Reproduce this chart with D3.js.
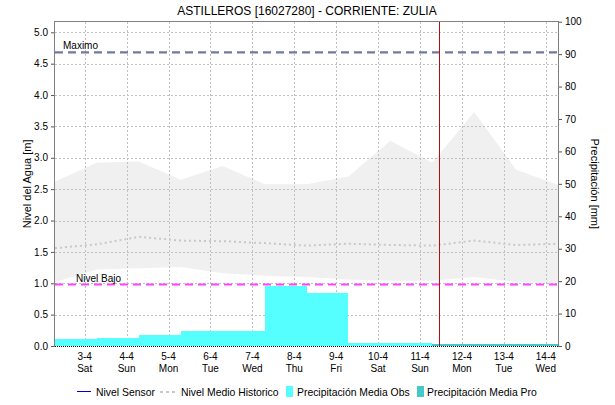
<!DOCTYPE html>
<html>
<head>
<meta charset="utf-8">
<script src="https://cdn.jsdelivr.net/npm/d3@7"></script>
<style>
  html, body { margin: 0; padding: 0; background: #ffffff; }
  svg { display: block; font-family: "Liberation Sans", Arial, sans-serif; }
</style>
</head>
<body>
<svg id="chart" width="615" height="405"></svg>
<script>
// Station: ASTILLEROS [16027280] - Corriente: Zulia

// Daily reference instants (07:00 each day), 2-4 .. 14-4
const dayStarts = ["2021-04-02", "2021-04-03", "2021-04-04", "2021-04-05", "2021-04-06",
  "2021-04-07", "2021-04-08", "2021-04-09", "2021-04-10", "2021-04-11",
  "2021-04-12", "2021-04-13", "2021-04-14"];

// Historic water level envelope [m]
const historicMax = [2.62, 2.92, 2.94, 2.65, 2.87, 2.58, 2.58, 2.70, 3.27, 2.92, 3.73, 2.81, 2.57];
const historicMin = [1.02, 1.22, 1.24, 1.26, 1.16, 1.12, 1.10, 1.06, 1.04, 1.04, 1.10, 1.02, 1.00];
const historicMean = [1.56, 1.62, 1.74, 1.68, 1.67, 1.64, 1.60, 1.63, 1.61, 1.60, 1.68, 1.61, 1.63];

// Precipitation per climatological day (07:00 -> 07:00) [mm]
const precipObsDays = ["2021-04-02", "2021-04-03", "2021-04-04", "2021-04-05", "2021-04-06",
  "2021-04-07", "2021-04-08", "2021-04-09", "2021-04-10"];
const precipObs = [2.2, 2.6, 3.4, 4.6, 4.6, 18.6, 16.4, 1.0, 0.8];
const precipProDays = ["2021-04-11", "2021-04-12", "2021-04-13"];
const precipPro = [0.6, 0.6, 0.6];

// Sensor readings (none reported in this window)
const sensorLevel = [];

// Reference levels [m]
const levelMax = 4.68;
const levelLow = 0.98;

// Current time marker
const nowTime = "2021-04-11T10:45:00Z";

// Axis ticks
const levelTicks = [0, 0.5, 1, 1.5, 2, 2.5, 3, 3.5, 4, 4.5, 5];
const precipTicks = [0, 10, 20, 30, 40, 50, 60, 70, 80, 90, 100];
const dayTicks = ["2021-04-03", "2021-04-04", "2021-04-05", "2021-04-06", "2021-04-07", "2021-04-08",
  "2021-04-09", "2021-04-10", "2021-04-11", "2021-04-12", "2021-04-13", "2021-04-14"];
const weekdayNames = ["Sun", "Mon", "Tue", "Wed", "Thu", "Fri", "Sat"];

const at7 = s => new Date(s + "T07:00:00Z");
const at0 = s => new Date(s + "T00:00:00Z");
const DAY = 86400000;

const svg = d3.select("#chart");
const pLeft = 55, pRight = 558, pTop = 21.7, pBottom = 346;

const x = d3.scaleUtc()
  .domain([at7("2021-04-02"), at7("2021-04-14")])
  .range([pLeft, pRight]);
const yL = d3.scaleLinear().domain([0, 5.169]).range([pBottom, pTop]);
const yR = d3.scaleLinear().domain([0, 100]).range([pBottom, pTop]);

svg.append("defs").append("clipPath").attr("id", "plotclip")
  .append("rect").attr("x", pLeft).attr("y", pTop).attr("width", pRight - pLeft).attr("height", pBottom - pTop);

const plot = svg.append("g").attr("clip-path", "url(#plotclip)");

// Historic band
const bandData = dayStarts.map((d, i) => ({ t: at7(d), lo: historicMin[i], hi: historicMax[i] }));
plot.append("path")
  .datum(bandData)
  .attr("fill", "#f0f0f0")
  .attr("d", d3.area().x(d => x(d.t)).y0(d => yL(d.lo)).y1(d => yL(d.hi)));

// Grid
const grid = plot.append("g").attr("stroke", "#c0c0c0").attr("stroke-width", 1)
  .attr("stroke-dasharray", "2,2").attr("shape-rendering", "crispEdges");
grid.selectAll("line.h").data(levelTicks).join("line")
  .attr("x1", pLeft).attr("x2", pRight)
  .attr("y1", d => Math.round(yL(d)) + 0.5).attr("y2", d => Math.round(yL(d)) + 0.5);
grid.selectAll("line.v").data(dayTicks).join("line")
  .attr("y1", pTop).attr("y2", pBottom)
  .attr("x1", d => Math.round(x(at0(d))) + 0.5).attr("x2", d => Math.round(x(at0(d))) + 0.5);

// Precipitation bars
plot.append("g").selectAll("rect").data(precipObs).join("rect")
  .attr("x", (d, i) => x(at7(precipObsDays[i])))
  .attr("width", (d, i) => x(new Date(+at7(precipObsDays[i]) + DAY)) - x(at7(precipObsDays[i])))
  .attr("y", d => yR(d))
  .attr("height", d => yR(0) - yR(d))
  .attr("fill", "#55ffff")
  .attr("shape-rendering", "crispEdges");
plot.append("g").selectAll("rect").data(precipPro).join("rect")
  .attr("x", (d, i) => x(at7(precipProDays[i])))
  .attr("width", (d, i) => x(new Date(+at7(precipProDays[i]) + DAY)) - x(at7(precipProDays[i])))
  .attr("y", d => yR(d))
  .attr("height", d => yR(0) - yR(d))
  .attr("fill", "#45c8c8")
  .attr("shape-rendering", "crispEdges");

// Historic mean level
plot.append("path")
  .datum(dayStarts.map((d, i) => ({ t: at7(d), v: historicMean[i] })))
  .attr("fill", "none")
  .attr("stroke", "#c8c8c8")
  .attr("stroke-width", 2)
  .attr("stroke-dasharray", "2,3")
  .attr("d", d3.line().x(d => x(d.t)).y(d => yL(d.v)));

// Sensor level
plot.append("path")
  .datum(sensorLevel)
  .attr("fill", "none")
  .attr("stroke", "#0000cc")
  .attr("stroke-width", 1)
  .attr("d", d3.line().x(d => x(new Date(d.t))).y(d => yL(d.v)));

// Reference level lines
plot.append("line")
  .attr("x1", pLeft).attr("x2", pRight)
  .attr("y1", yL(levelLow)).attr("y2", yL(levelLow))
  .attr("stroke", "#ff44ff").attr("stroke-width", 2.2).attr("stroke-dasharray", "8,5");
plot.append("line")
  .attr("x1", pLeft).attr("x2", pRight)
  .attr("y1", yL(levelMax)).attr("y2", yL(levelMax))
  .attr("stroke", "#6e7a9e").attr("stroke-width", 2.2).attr("stroke-dasharray", "8,5");

svg.append("text").attr("x", 63).attr("y", yL(levelMax) - 3)
  .attr("font-size", 10).attr("fill", "#000").text("Maximo");
svg.append("text").attr("x", 76).attr("y", yL(levelLow) - 3)
  .attr("font-size", 10).attr("fill", "#000").text("Nivel Bajo");

// Current time marker
const nowX = Math.round(x(new Date(nowTime))) + 0.5;
svg.append("line")
  .attr("x1", nowX).attr("x2", nowX)
  .attr("y1", pTop).attr("y2", pBottom)
  .attr("stroke", "#b01010").attr("stroke-width", 1);

// Frame
const frame = svg.append("g").attr("shape-rendering", "crispEdges");
frame.append("line").attr("x1", pLeft).attr("x2", pRight).attr("y1", 21.5).attr("y2", 21.5)
  .attr("stroke", "#808080");
frame.append("line").attr("x1", pLeft - 0.5).attr("x2", pLeft - 0.5).attr("y1", 21).attr("y2", pBottom + 1)
  .attr("stroke", "#808080");
frame.append("line").attr("x1", pRight + 0.5).attr("x2", pRight + 0.5).attr("y1", 21).attr("y2", pBottom + 1)
  .attr("stroke", "#808080");
frame.append("line").attr("x1", pLeft).attr("x2", pRight).attr("y1", pBottom + 0.5).attr("y2", pBottom + 0.5)
  .attr("stroke", "#000").attr("stroke-dasharray", "1,1");

// Left axis
const axL = d3.axisLeft(yL).tickValues(levelTicks).tickFormat(d3.format(".1f")).tickSize(3).tickPadding(3);
const gL = svg.append("g").attr("transform", `translate(${pLeft - 1},0)`).call(axL);
gL.select(".domain").remove();
gL.selectAll("text").attr("font-size", 10).attr("font-family", "Liberation Sans, Arial, sans-serif").attr("fill", "#000");
gL.selectAll("line").attr("stroke", "#555");

// Right axis
const axR = d3.axisRight(yR).tickValues(precipTicks).tickFormat(d3.format("d")).tickSize(3).tickPadding(3);
const gR = svg.append("g").attr("transform", `translate(${pRight + 1},0)`).call(axR);
gR.select(".domain").remove();
gR.selectAll("text").attr("font-size", 10).attr("font-family", "Liberation Sans, Arial, sans-serif").attr("fill", "#000");
gR.selectAll("line").attr("stroke", "#555");

// Time axis labels (date + weekday)
const gx = svg.append("g").attr("font-size", 10).attr("text-anchor", "middle").attr("fill", "#000");
dayTicks.forEach(d => {
  const t = at0(d);
  const px = x(t);
  gx.append("text").attr("x", px).attr("y", 360).text(`${t.getUTCDate()}-${t.getUTCMonth() + 1}`);
  gx.append("text").attr("x", px).attr("y", 372).text(weekdayNames[t.getUTCDay()]);
});

// Titles
svg.append("text").attr("x", 307).attr("y", 15).attr("text-anchor", "middle")
  .attr("font-size", 12).attr("fill", "#000").text("ASTILLEROS [16027280] - CORRIENTE: ZULIA");
svg.append("text").attr("transform", `translate(31,${(pTop + pBottom) / 2}) rotate(-90)`)
  .attr("text-anchor", "middle").attr("font-size", 11).attr("fill", "#000").text("Nivel del Agua [m]");
svg.append("text").attr("transform", `translate(591,${(pTop + pBottom) / 2}) rotate(90)`)
  .attr("text-anchor", "middle").attr("font-size", 11).attr("fill", "#000").text("Precipitación [mm]");

// Legend
const lg = svg.append("g").attr("font-size", 10.4).attr("fill", "#000");
const ly = 392;
lg.append("line").attr("x1", 77).attr("x2", 91).attr("y1", ly - 0.5).attr("y2", ly - 0.5)
  .attr("stroke", "#0000cc").attr("stroke-width", 1);
lg.append("text").attr("x", 96).attr("y", ly + 4).text("Nivel Sensor");
lg.append("line").attr("x1", 160).attr("x2", 176).attr("y1", ly).attr("y2", ly)
  .attr("stroke", "#c8c8c8").attr("stroke-width", 2).attr("stroke-dasharray", "3,3");
lg.append("text").attr("x", 181).attr("y", ly + 4).text("Nivel Medio Historico");
lg.append("rect").attr("x", 286).attr("y", ly - 6).attr("width", 7).attr("height", 11).attr("fill", "#55ffff");
lg.append("text").attr("x", 297).attr("y", ly + 4).text("Precipitación Media Obs");
lg.append("rect").attr("x", 417).attr("y", ly - 6).attr("width", 7).attr("height", 11).attr("fill", "#45c8c8");
lg.append("text").attr("x", 427).attr("y", ly + 4).text("Precipitación Media Pro");
</script>
</body>
</html>
